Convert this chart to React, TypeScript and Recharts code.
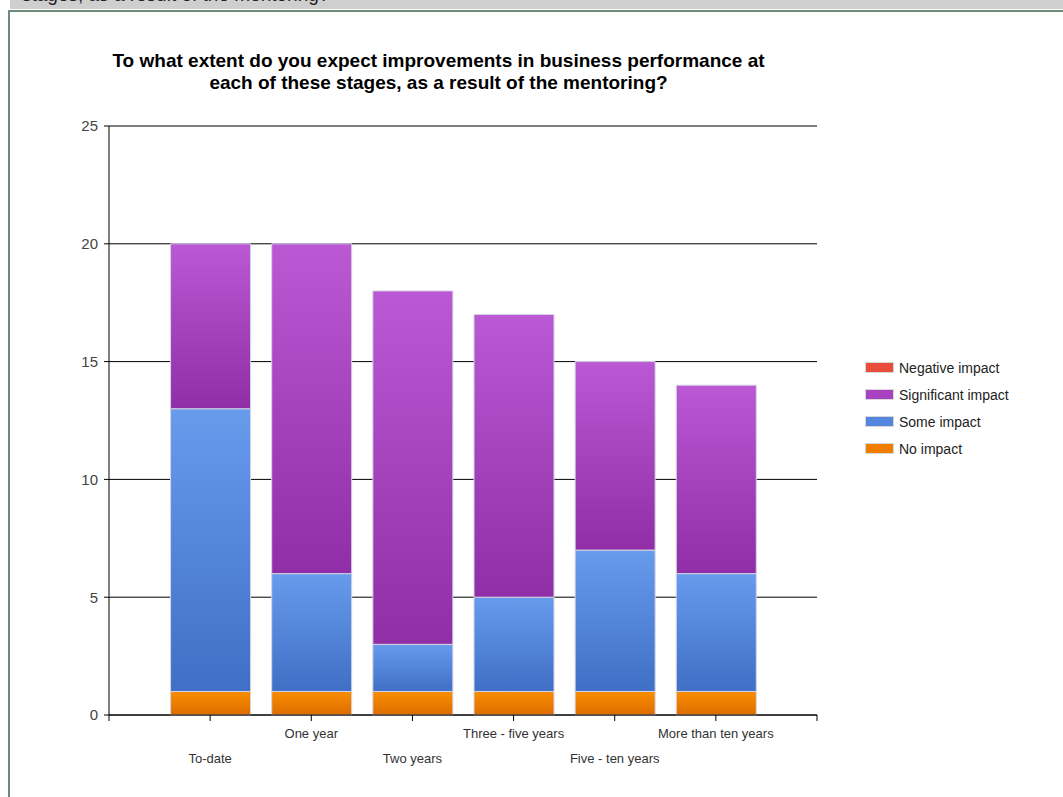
import React from "react";
import { BarChart, Bar, XAxis, YAxis, CartesianGrid } from "recharts";

const categories = ["To-date", "One year", "Two years", "Three - five years", "Five - ten years", "More than ten years"];
const noImpact = [1, 1, 1, 1, 1, 1];
const someImpact = [12, 5, 2, 4, 6, 5];
const significantImpact = [7, 14, 15, 12, 8, 8];
const negativeImpact = [0, 0, 0, 0, 0, 0];
const yTicks = [0, 5, 10, 15, 20, 25];
const xTicks = [0, 1, 2, 3, 4, 5, 6, 7];

const data = categories.map((name, i) => ({
  pos: i + 1,
  name,
  noImpact: noImpact[i],
  someImpact: someImpact[i],
  significantImpact: significantImpact[i],
  negativeImpact: negativeImpact[i],
}));

const series = [
  { key: "noImpact", name: "No impact", top: "#fa8e00", bottom: "#dc6c00", swatch: "#f07c00" },
  { key: "someImpact", name: "Some impact", top: "#679bec", bottom: "#3f6fc6", swatch: "#5585dc" },
  { key: "significantImpact", name: "Significant impact", top: "#bb58d4", bottom: "#8f2ea6", swatch: "#a842c0" },
  { key: "negativeImpact", name: "Negative impact", top: "#f05a44", bottom: "#d83a28", swatch: "#e84c3a" },
];

const FONT = "'Liberation Sans', Arial, sans-serif";

const XTick = (props: any) => {
  const { x, y, payload } = props;
  const v = payload.value;
  if (v < 1 || v > 6) return null;
  const label = categories[v - 1];
  const lower = v % 2 === 1;
  return (
    <text x={x} y={y} dy={lower ? 42 : 17} textAnchor="middle" fontSize={13} fill="#333" fontFamily={FONT}>
      {label}
    </text>
  );
};

export default function App() {
  return (
    <div style={{ position: "absolute", left: 0, top: 0, width: 1063, height: 797, background: "#fff", overflow: "hidden", fontFamily: FONT }}>
      <div style={{ position: "absolute", left: 10, top: 0, width: 1053, height: 9, background: "#cfcfcf", overflow: "hidden" }}>
        <div style={{ position: "absolute", left: 12, top: -16, fontSize: 19, color: "#222", whiteSpace: "nowrap", fontFamily: FONT }}>
          stages, as a result of the mentoring?
        </div>
      </div>
      <div style={{ position: "absolute", left: 8, top: 10, width: 1080, height: 820, borderLeft: "2px solid #6e8a78", borderTop: "2px solid #6e8a78", boxSizing: "border-box" }} />
      <div style={{ position: "absolute", left: 0, top: 0 }}>
        <BarChart width={1063} height={797} data={data} margin={{ top: 126, right: 246, bottom: 0, left: 0 }}>
          <defs>
            {series.map((s) => (
              <linearGradient key={s.key} id={`g-${s.key}`} x1="0" y1="0" x2="0" y2="1">
                <stop offset="0%" stopColor={s.top} />
                <stop offset="100%" stopColor={s.bottom} />
              </linearGradient>
            ))}
          </defs>
          <CartesianGrid vertical={false} stroke="#000" strokeWidth={1} />
          <XAxis
            type="number"
            dataKey="pos"
            domain={[0, 7]}
            ticks={xTicks}
            interval={0}
            height={82}
            tickSize={6}
            tickMargin={0}
            axisLine={{ stroke: "#000" }}
            tickLine={{ stroke: "#000" }}
            tick={<XTick />}
            allowDecimals={false}
          />
          <YAxis
            type="number"
            domain={[0, 25]}
            ticks={yTicks}
            width={109}
            tickSize={5}
            tickMargin={6}
            axisLine={{ stroke: "#000" }}
            tickLine={{ stroke: "#000" }}
            tick={{ fontSize: 15, fill: "#444", fontFamily: FONT }}
          />
          {series.map((s) => (
            <Bar
              key={s.key}
              dataKey={s.key}
              name={s.name}
              stackId="a"
              barSize={80}
              fill={`url(#g-${s.key})`}
              stroke="#d6d4e4"
              strokeWidth={1}
              isAnimationActive={false}
            />
          ))}
        </BarChart>
      </div>
      <div style={{ position: "absolute", left: 0, top: 50, width: 877, textAlign: "center", fontWeight: "bold", fontSize: 19, lineHeight: "22px", color: "#000", fontFamily: FONT }}>
        To what extent do you expect improvements in business performance at
        <br />
        each of these stages, as a result of the mentoring?
      </div>
      <div style={{ position: "absolute", left: 865, top: 354 }}>
        {[...series].reverse().map((s) => (
          <div key={s.key} style={{ display: "flex", alignItems: "center", height: 27 }}>
            <div style={{ width: 27, height: 9, background: s.swatch, border: "1px solid #d8d8d8", marginRight: 5 }} />
            <span style={{ fontSize: 14, color: "#222", fontFamily: FONT }}>{s.name}</span>
          </div>
        ))}
      </div>
    </div>
  );
}
